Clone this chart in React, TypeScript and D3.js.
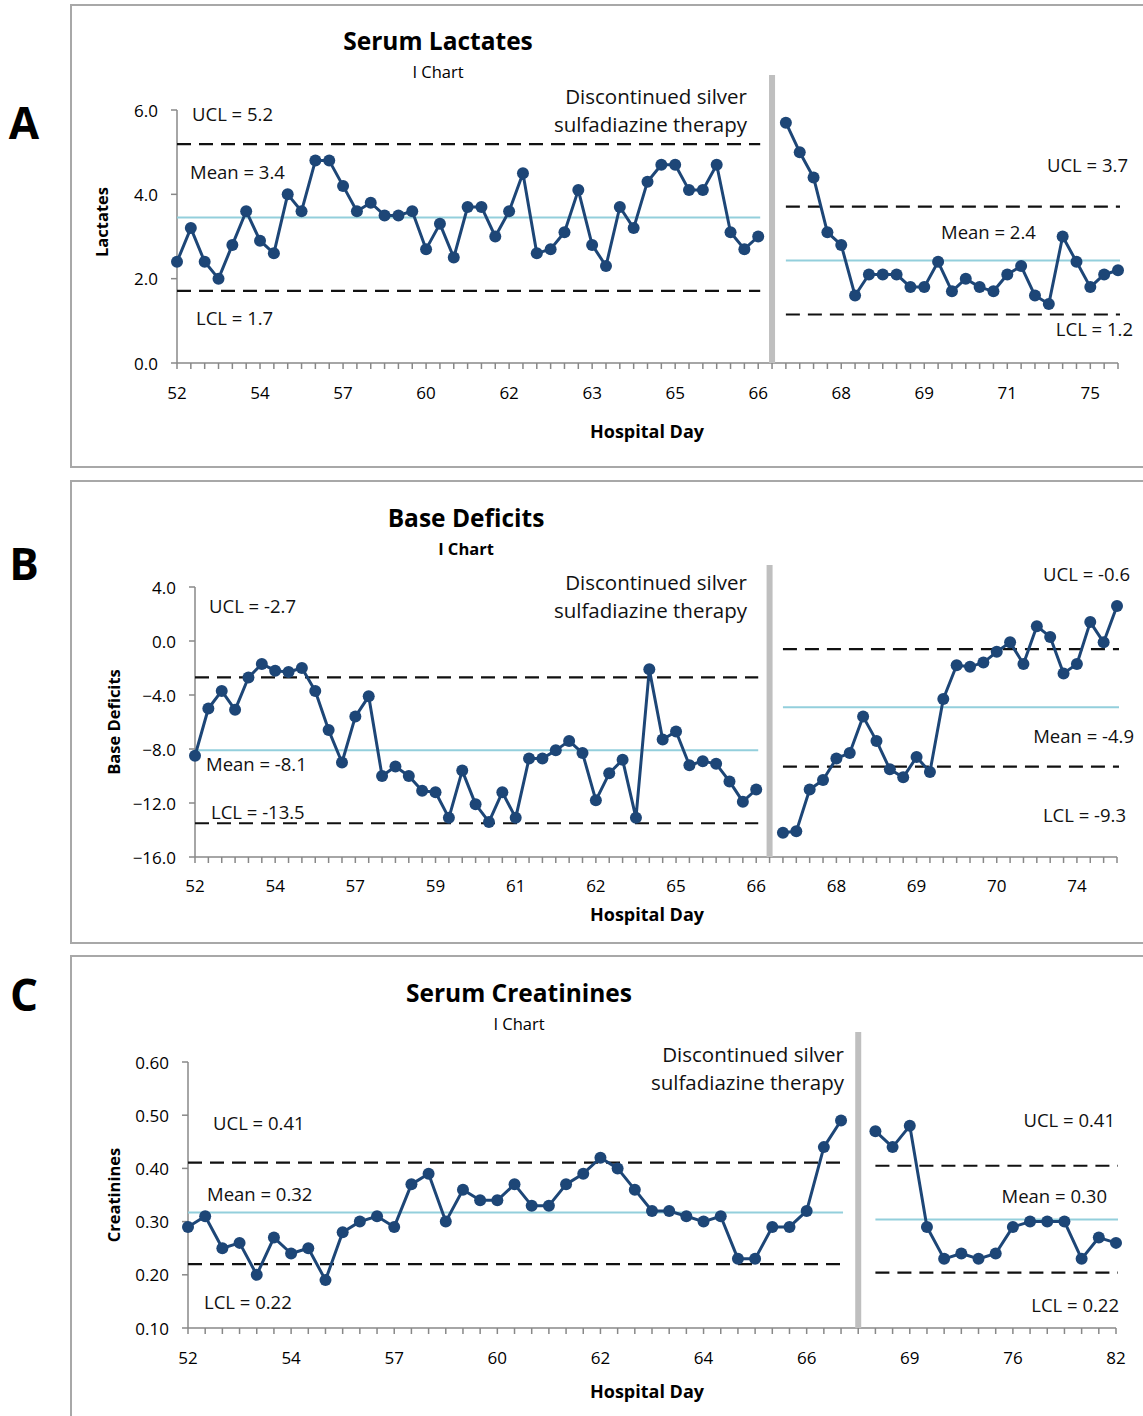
import React, { useRef, useEffect } from 'react';
import * as d3 from 'd3';

// Panel A: serum lactates (one value per draw, before / after stopping therapy)
const lactBefore = [2.4, 3.2, 2.4, 2.0, 2.8, 3.6, 2.9, 2.6, 4.0, 3.6, 4.8, 4.8, 4.2, 3.6, 3.8, 3.5, 3.5, 3.6, 2.7, 3.3, 2.5, 3.7, 3.7, 3.0, 3.6, 4.5, 2.6, 2.7, 3.1, 4.1, 2.8, 2.3, 3.7, 3.2, 4.3, 4.7, 4.7, 4.1, 4.1, 4.7, 3.1, 2.7, 3.0];
const lactAfter = [5.7, 5.0, 4.4, 3.1, 2.8, 1.6, 2.1, 2.1, 2.1, 1.8, 1.8, 2.4, 1.7, 2.0, 1.8, 1.7, 2.1, 2.3, 1.6, 1.4, 3.0, 2.4, 1.8, 2.1, 2.2];
const lactDays = ['52', '54', '57', '60', '62', '63', '65', '66', '68', '69', '71', '75'];
const lactLimitsBefore = [5.19, 3.45, 1.71]; // UCL, mean, LCL
const lactLimitsAfter = [3.71, 2.43, 1.15];
const lactLabelsBefore = ['UCL = 5.2', 'Mean = 3.4', 'LCL = 1.7'];
const lactLabelsAfter = ['UCL = 3.7', 'Mean = 2.4', 'LCL = 1.2'];
const lactYTicks = [0, 2, 4, 6];

// Panel B: base deficits
const baseBefore = [-8.5, -5.0, -3.7, -5.1, -2.7, -1.7, -2.2, -2.3, -2.0, -3.7, -6.6, -9.0, -5.6, -4.1, -10.0, -9.3, -10.0, -11.1, -11.2, -13.1, -9.6, -12.1, -13.4, -11.2, -13.1, -8.7, -8.7, -8.1, -7.4, -8.3, -11.8, -9.8, -8.8, -13.1, -2.1, -7.3, -6.7, -9.2, -8.9, -9.1, -10.4, -11.9, -11.0];
const baseAfter = [-14.2, -14.1, -11.0, -10.3, -8.7, -8.3, -5.6, -7.4, -9.5, -10.1, -8.6, -9.7, -4.3, -1.8, -1.9, -1.6, -0.8, -0.1, -1.7, 1.1, 0.3, -2.4, -1.7, 1.4, -0.1, 2.6];
const baseDays = ['52', '54', '57', '59', '61', '62', '65', '66', '68', '69', '70', '74'];
const baseLimitsBefore = [-2.7, -8.1, -13.5];
const baseLimitsAfter = [-0.6, -4.9, -9.3];
const baseLabelsBefore = ['UCL = -2.7', 'Mean = -8.1', 'LCL = -13.5'];
const baseLabelsAfter = ['UCL = -0.6', 'Mean = -4.9', 'LCL = -9.3'];
const baseYTicks = [-16, -12, -8, -4, 0, 4];

// Panel C: serum creatinines
const creatBefore = [0.29, 0.31, 0.25, 0.26, 0.20, 0.27, 0.24, 0.25, 0.19, 0.28, 0.30, 0.31, 0.29, 0.37, 0.39, 0.30, 0.36, 0.34, 0.34, 0.37, 0.33, 0.33, 0.37, 0.39, 0.42, 0.40, 0.36, 0.32, 0.32, 0.31, 0.30, 0.31, 0.23, 0.23, 0.29, 0.29, 0.32, 0.44, 0.49];
const creatAfter = [0.47, 0.44, 0.48, 0.29, 0.23, 0.24, 0.23, 0.24, 0.29, 0.30, 0.30, 0.30, 0.23, 0.27, 0.26];
const creatDays = ['52', '54', '57', '60', '62', '64', '66', '69', '76', '82'];
const creatLimitsBefore = [0.411, 0.317, 0.22];
const creatLimitsAfter = [0.405, 0.304, 0.204];
const creatLabelsBefore = ['UCL = 0.41', 'Mean = 0.32', 'LCL = 0.22'];
const creatLabelsAfter = ['UCL = 0.41', 'Mean = 0.30', 'LCL = 0.22'];
const creatYTicks = [0.1, 0.2, 0.3, 0.4, 0.5, 0.6];

const FONT = '"Open Sans", "Noto Sans", sans-serif';
const NAVY = '#1d4677';
const MEAN_BLUE = '#93cfdc';
const AXIS_GREY = '#888888';

type Pos = [number, number, string];

interface PanelCfg {
  frameY: number;
  frameH: number;
  letter: string;
  letterY: number;
  title: string;
  titleX: number;
  titleY: number;
  subBold: boolean;
  yLabel: string;
  yLabelX: number;
  yLabelY: number;
  x0: number;
  x1: number;
  yTopPx: number;
  yBotPx: number;
  yDomain: [number, number];
  yTicks: number[];
  yFmt: string;
  before: number[];
  after: number[];
  days: string[];
  limitsBefore: number[];
  limitsAfter: number[];
  labelsBefore: string[];
  labelsAfter: string[];
  posBefore: Pos[];
  posAfter: Pos[];
  noteX: number;
  noteY: number;
  barTop: number;
  tickLabelY: number;
  axisTitleY: number;
}

function drawPanel(svg: d3.Selection<SVGSVGElement, unknown, null, undefined>, c: PanelCfg) {
  const g = svg.append('g');
  const n = c.before.length + 1 + c.after.length;
  const gap = c.before.length;

  // frame
  g.append('rect')
    .attr('x', 71).attr('y', c.frameY)
    .attr('width', 1120).attr('height', c.frameH)
    .attr('fill', '#fff').attr('stroke', '#a8a8a8').attr('stroke-width', 2);

  g.append('text')
    .attr('x', 24).attr('y', c.letterY)
    .attr('text-anchor', 'middle').attr('dominant-baseline', 'central')
    .attr('font-family', FONT).attr('font-weight', 'bold').attr('font-size', 44)
    .text(c.letter);

  g.append('text')
    .attr('x', c.titleX).attr('y', c.titleY)
    .attr('text-anchor', 'middle').attr('dominant-baseline', 'central')
    .attr('font-family', FONT).attr('font-weight', 'bold').attr('font-size', 24.5)
    .text(c.title);
  g.append('text')
    .attr('x', c.titleX).attr('y', c.titleY + 31)
    .attr('text-anchor', 'middle').attr('dominant-baseline', 'central')
    .attr('font-family', FONT).attr('font-weight', c.subBold ? 'bold' : 'normal').attr('font-size', 16.5)
    .text('I Chart');

  const x = d3.scaleLinear().domain([0, n - 1]).range([c.x0, c.x1]);
  const y = d3.scaleLinear().domain(c.yDomain).range([c.yBotPx, c.yTopPx]);

  // y axis
  g.append('line')
    .attr('x1', c.x0).attr('x2', c.x0).attr('y1', c.yTopPx).attr('y2', c.yBotPx)
    .attr('stroke', AXIS_GREY).attr('stroke-width', 1.5);
  g.selectAll('.ytick').data(c.yTicks).enter().append('line')
    .attr('x1', c.x0 - 6).attr('x2', c.x0)
    .attr('y1', d => y(d)).attr('y2', d => y(d))
    .attr('stroke', AXIS_GREY).attr('stroke-width', 1.5);
  g.selectAll('.ylab').data(c.yTicks).enter().append('text')
    .attr('x', c.x0 - 19).attr('y', d => y(d))
    .attr('text-anchor', 'end').attr('dominant-baseline', 'central')
    .attr('font-family', FONT).attr('font-size', 17)
    .text(d => d3.format(c.yFmt)(d));
  g.append('text')
    .attr('transform', `translate(${c.yLabelX},${c.yLabelY}) rotate(-90)`)
    .attr('text-anchor', 'middle').attr('dominant-baseline', 'central')
    .attr('font-family', FONT).attr('font-weight', 'bold').attr('font-size', 16.5)
    .text(c.yLabel);

  // x axis
  g.append('line')
    .attr('x1', c.x0).attr('x2', c.x1).attr('y1', c.yBotPx).attr('y2', c.yBotPx)
    .attr('stroke', AXIS_GREY).attr('stroke-width', 1.5);
  g.selectAll('.xtick').data(d3.range(n)).enter().append('line')
    .attr('x1', d => x(d)).attr('x2', d => x(d))
    .attr('y1', c.yBotPx).attr('y2', c.yBotPx + 6)
    .attr('stroke', AXIS_GREY).attr('stroke-width', 1.5);
  g.selectAll('.xlab').data(c.days).enter().append('text')
    .attr('x', (d, i) => x(i * 6)).attr('y', c.tickLabelY)
    .attr('text-anchor', 'middle').attr('dominant-baseline', 'central')
    .attr('font-family', FONT).attr('font-size', 17)
    .text(d => d);
  g.append('text')
    .attr('x', 647).attr('y', c.axisTitleY)
    .attr('text-anchor', 'middle').attr('dominant-baseline', 'central')
    .attr('font-family', FONT).attr('font-weight', 'bold').attr('font-size', 18)
    .text('Hospital Day');

  // phase divider
  g.append('rect')
    .attr('x', x(gap) - 3).attr('y', c.barTop)
    .attr('width', 6).attr('height', c.yBotPx - c.barTop)
    .attr('fill', '#bfbfbf');

  // control limits
  const phases = [
    { start: 0, end: gap - 1, limits: c.limitsBefore },
    { start: gap + 1, end: n - 1, limits: c.limitsAfter },
  ];
  phases.forEach(p => {
    p.limits.forEach((v, k) => {
      g.append('line')
        .attr('x1', x(p.start)).attr('x2', x(p.end) + 2)
        .attr('y1', y(v)).attr('y2', y(v))
        .attr('stroke', k === 1 ? MEAN_BLUE : '#111')
        .attr('stroke-width', k === 1 ? 2 : 2.2)
        .attr('stroke-dasharray', k === 1 ? null : '14,8');
    });
  });

  const txt = (pos: Pos, s: string, size: number) =>
    g.append('text')
      .attr('x', pos[0]).attr('y', pos[1])
      .attr('text-anchor', pos[2]).attr('dominant-baseline', 'central')
      .attr('font-family', FONT).attr('font-size', size).attr('fill', '#111')
      .text(s);
  c.labelsBefore.forEach((s, k) => txt(c.posBefore[k], s, 18.5));
  c.labelsAfter.forEach((s, k) => txt(c.posAfter[k], s, 18.5));
  txt([c.noteX, c.noteY, 'end'], 'Discontinued silver', 20.5);
  txt([c.noteX, c.noteY + 28, 'end'], 'sulfadiazine therapy', 20.5);

  // series
  const segs = [
    c.before.map((v, i) => [i, v] as [number, number]),
    c.after.map((v, i) => [gap + 1 + i, v] as [number, number]),
  ];
  const line = d3.line<[number, number]>().x(d => x(d[0])).y(d => y(d[1]));
  segs.forEach(seg => {
    g.append('path')
      .attr('d', line(seg))
      .attr('fill', 'none').attr('stroke', NAVY).attr('stroke-width', 3)
      .attr('stroke-linejoin', 'round');
    g.selectAll(null).data(seg).enter().append('circle')
      .attr('cx', d => x(d[0])).attr('cy', d => y(d[1]))
      .attr('r', 6).attr('fill', NAVY);
  });
}

const panels: PanelCfg[] = [
  {
    frameY: 5, frameH: 462, letter: 'A', letterY: 122,
    title: 'Serum Lactates', titleX: 438, titleY: 40, subBold: false,
    yLabel: 'Lactates', yLabelX: 101, yLabelY: 222,
    x0: 177, x1: 1118, yTopPx: 110, yBotPx: 363, yDomain: [0, 6], yTicks: lactYTicks, yFmt: '.1f',
    before: lactBefore, after: lactAfter, days: lactDays,
    limitsBefore: lactLimitsBefore, limitsAfter: lactLimitsAfter,
    labelsBefore: lactLabelsBefore, labelsAfter: lactLabelsAfter,
    posBefore: [[192, 113, 'start'], [190, 171, 'start'], [196, 317, 'start']],
    posAfter: [[1128, 164, 'end'], [941, 231, 'start'], [1133, 328, 'end']],
    noteX: 747, noteY: 96, barTop: 75, tickLabelY: 392, axisTitleY: 431,
  },
  {
    frameY: 481, frameH: 462, letter: 'B', letterY: 563,
    title: 'Base Deficits', titleX: 466, titleY: 517, subBold: true,
    yLabel: 'Base Deficits', yLabelX: 113, yLabelY: 722,
    x0: 195, x1: 1117, yTopPx: 587, yBotPx: 857, yDomain: [-16, 4], yTicks: baseYTicks, yFmt: '.1f',
    before: baseBefore, after: baseAfter, days: baseDays,
    limitsBefore: baseLimitsBefore, limitsAfter: baseLimitsAfter,
    labelsBefore: baseLabelsBefore, labelsAfter: baseLabelsAfter,
    posBefore: [[209, 605, 'start'], [206, 763, 'start'], [211, 811, 'start']],
    posAfter: [[1130, 573, 'end'], [1134, 735, 'end'], [1126, 814, 'end']],
    noteX: 747, noteY: 582, barTop: 565, tickLabelY: 885, axisTitleY: 914,
  },
  {
    frameY: 956, frameH: 520, letter: 'C', letterY: 994,
    title: 'Serum Creatinines', titleX: 519, titleY: 992, subBold: false,
    yLabel: 'Creatinines', yLabelX: 113, yLabelY: 1195,
    x0: 188, x1: 1116, yTopPx: 1062, yBotPx: 1328, yDomain: [0.1, 0.6], yTicks: creatYTicks, yFmt: '.2f',
    before: creatBefore, after: creatAfter, days: creatDays,
    limitsBefore: creatLimitsBefore, limitsAfter: creatLimitsAfter,
    labelsBefore: creatLabelsBefore, labelsAfter: creatLabelsAfter,
    posBefore: [[213, 1122, 'start'], [207, 1193, 'start'], [204, 1301, 'start']],
    posAfter: [[1115, 1119, 'end'], [1107, 1195, 'end'], [1119, 1304, 'end']],
    noteX: 844, noteY: 1054, barTop: 1032, tickLabelY: 1357, axisTitleY: 1391,
  },
];

const App = () => {
  const ref = useRef<SVGSVGElement>(null);

  useEffect(() => {
    const svg = d3.select(ref.current as SVGSVGElement);
    svg.selectAll('*').remove();
    svg.append('rect').attr('width', 1143).attr('height', 1416).attr('fill', '#fff');
    panels.forEach(p => drawPanel(svg, p));
  }, []);

  return (
    <svg
      ref={ref}
      width={1143}
      height={1416}
      style={{ position: 'absolute', left: 0, top: 0, display: 'block' }}
    />
  );
};

export default App;
